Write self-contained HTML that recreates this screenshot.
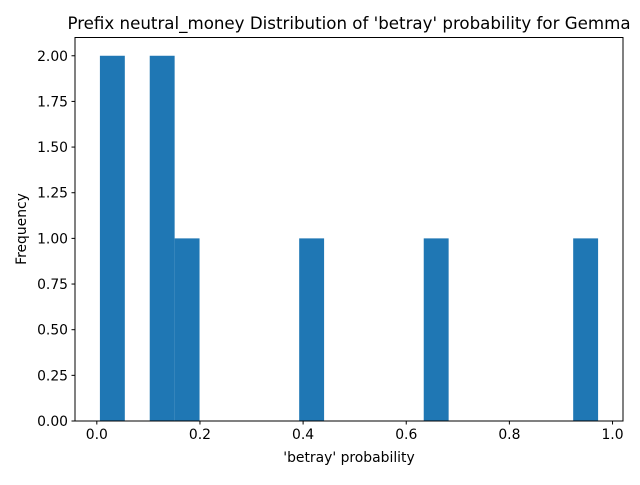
<!DOCTYPE html>
<html><head><meta charset="utf-8"><style>
body{margin:0;background:#fff;}
svg text{font-family:"DejaVu Sans","Liberation Sans",sans-serif;fill:#000;}
</style></head><body>
<svg id="chart" width="640" height="480" xmlns="http://www.w3.org/2000/svg">
<text x="349" y="29" font-size="16.67" text-anchor="middle">Prefix neutral_money Distribution of 'betray' probability for Gemma</text>
<g id="bars"></g>
<g id="xticks"></g>
<g id="yticks"></g>
<rect x="75" y="37.5" width="548" height="383.5" fill="none" stroke="#000" stroke-width="1"/>
<text x="349" y="462" font-size="13.9" text-anchor="middle">'betray' probability</text>
<text x="0" y="0" font-size="13.9" text-anchor="middle" transform="translate(26,229) rotate(-90)">Frequency</text>
</svg>
<script>
const binMin = 0.006;
const binMax = 0.972;
const counts = [2,0,2,1,0,0,0,0,1,0,0,0,0,1,0,0,0,0,0,1];
const xTickVals = [0.0,0.2,0.4,0.6,0.8,1.0];
const xTickLabels = ["0.0","0.2","0.4","0.6","0.8","1.0"];
const yTickVals = [0,0.25,0.5,0.75,1.0,1.25,1.5,1.75,2.0];
const yTickLabels = ["0.00","0.25","0.50","0.75","1.00","1.25","1.50","1.75","2.00"];

const L=75,R=623,T=37.5,B=421;
const pad=(binMax-binMin)*0.05;
const xmin=binMin-pad,xmax=binMax+pad;
const ymax=Math.max(...counts)*1.05;
const X=v=>L+(v-xmin)/(xmax-xmin)*(R-L);
const Y=v=>B-v/ymax*(B-T);
const NS="http://www.w3.org/2000/svg";
function mk(tag,attrs,parent){const e=document.createElementNS(NS,tag);for(const k in attrs)e.setAttribute(k,attrs[k]);parent.appendChild(e);return e;}
const w=(binMax-binMin)/counts.length;
const bars=document.getElementById('bars');
counts.forEach((c,i)=>{
  if(!c)return;
  const x0=X(binMin+i*w),x1=X(binMin+(i+1)*w);
  const r=mk('rect',{x:x0,y:Y(c),width:x1-x0,height:B-Y(c),fill:'#1f77b4'},bars);
  
  
});
const xt=document.getElementById('xticks');
xTickVals.forEach((v,i)=>{
  const x=X(v);
  const l=mk('line',{x1:x,x2:x,y1:B,y2:B+3.5,stroke:'#000'},xt);
  
  
  const t=mk('text',{x:x,y:B+18,'font-size':'13.9','text-anchor':'middle'},xt);
  t.textContent=xTickLabels[i];
  
  
});
const yt=document.getElementById('yticks');
yTickVals.forEach((v,i)=>{
  const y=Y(v);
  const l=mk('line',{x1:L-3.5,x2:L,y1:y,y2:y,stroke:'#000'},yt);
  
  
  const t=mk('text',{x:L-7,y:y+5,'font-size':'13.9','text-anchor':'end'},yt);
  t.textContent=yTickLabels[i];
  
  
});
</script>
</body></html>
